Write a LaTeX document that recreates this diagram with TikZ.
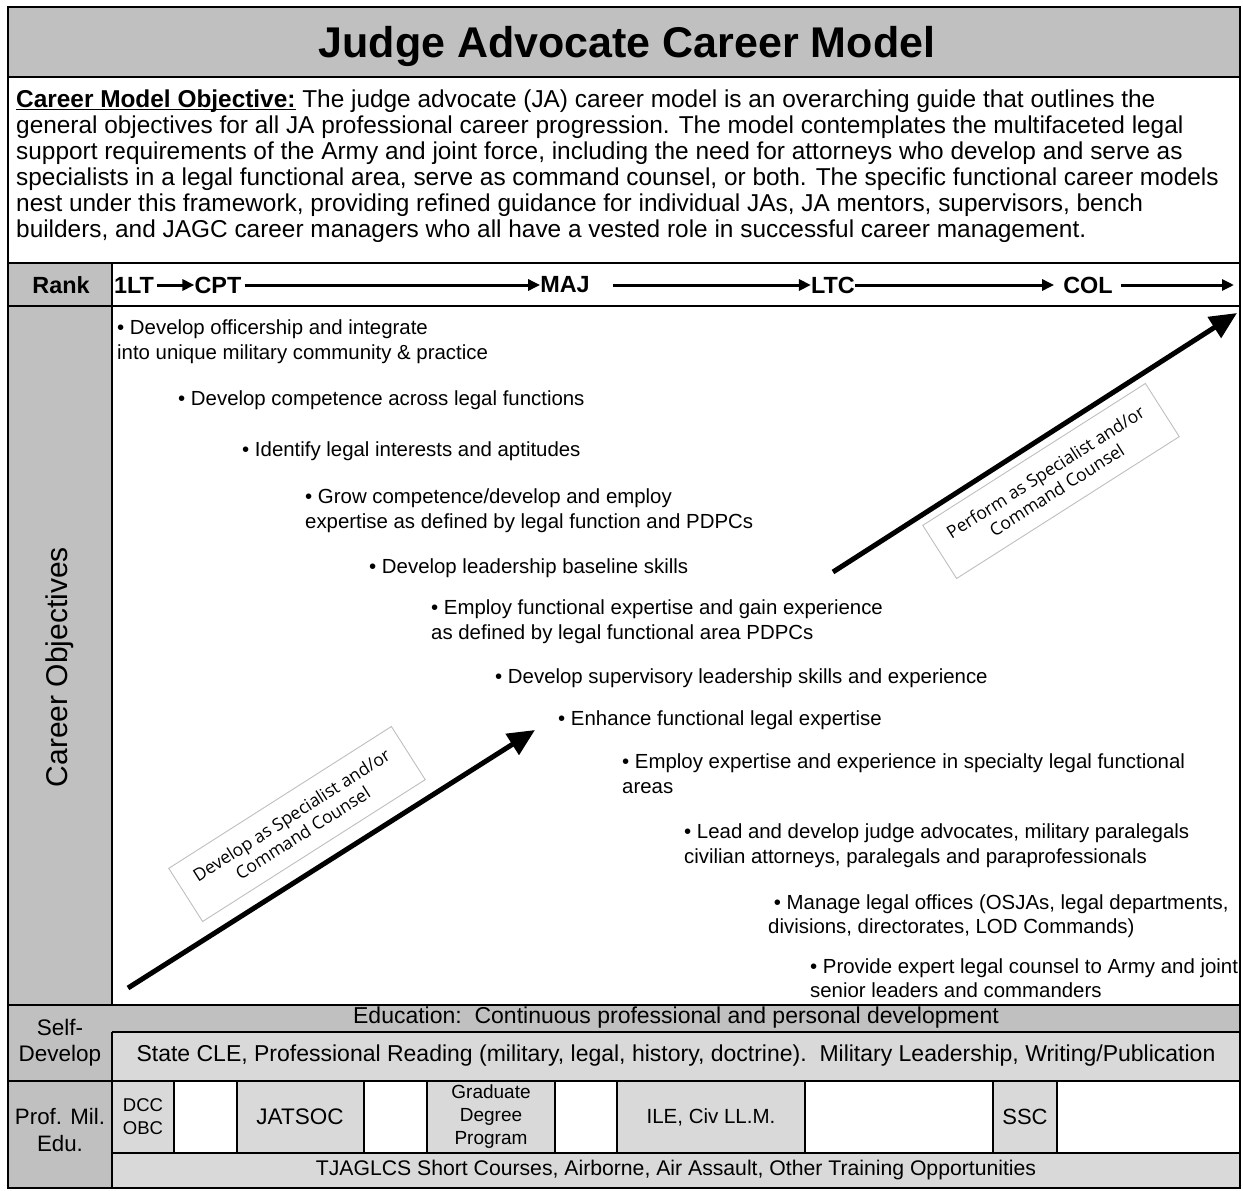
\documentclass[tikz,border=0pt]{standalone}
\usepackage{fontspec}
\setmainfont{Liberation Sans}
\newfontfamily\tagfont{Open Sans}
\usetikzlibrary{positioning,arrows.meta}

\definecolor{labelgray}{RGB}{192,192,192}
\definecolor{cellgray}{RGB}{217,217,217}
\definecolor{tagline}{RGB}{190,190,190}

\begin{document}
\begin{tikzpicture}[x=1pt,y=-1pt,
    rule/.style={line width=2.6pt},
    cellrule/.style={line width=1.8pt},
    rank/.style={font=\fontsize{23.4}{26}\selectfont\bfseries, inner sep=0pt},
    obj/.style={font=\fontsize{20.4}{25}\selectfont, align=left, anchor=north west, inner sep=0pt},
    cell/.style={font=\fontsize{22.5}{26}\selectfont, align=center, inner sep=0pt},
    rankarrow/.style={line width=3pt, -{Triangle[length=12pt,width=11pt]}},
    bigarrow/.style={line width=5pt, -{Triangle[length=27pt,width=24pt]}},
    tagbox/.style={draw=tagline, line width=0.9pt, rotate=32.5, minimum width=264pt,
        minimum height=63pt, align=center, inner sep=0pt, font=\tagfont\fontsize{17.5}{21}\selectfont}]
    \useasboundingbox (0,0) rectangle (1243,1191);

    % fills
    \fill[labelgray] (8,7) rectangle (1240,77);
    \fill[labelgray] (8,263) rectangle (112,1188);
    \fill[labelgray] (112,1005) rectangle (1240,1032);
    \fill[cellgray] (112,1032) rectangle (1240,1081);
    \fill[cellgray] (112,1153) rectangle (1240,1188);
    \foreach \a/\b in {112/174, 237/364, 427/555, 617/805, 993/1057}
        \fill[cellgray] (\a,1081) rectangle (\b,1153);

    % grid lines
    \draw[rule] (8,77) -- (1240,77);
    \draw[rule] (8,263) -- (1240,263);
    \draw[rule] (8,306) -- (1240,306);
    \draw[rule] (8,1005) -- (1240,1005);
    \draw[rule] (112,1032) -- (1240,1032);
    \draw[rule] (8,1081) -- (1240,1081);
    \draw[rule] (112,1153) -- (1240,1153);
    \draw[rule] (112,263) -- (112,1005);
    \draw[rule] (112,1032) -- (112,1188);
    \foreach \a in {174,237,364,427,555,617,805,993,1057}
        \draw[cellrule] (\a,1081) -- (\a,1153);
    \draw[rule] (8,7) rectangle (1240,1188);

    % title and objective
    \node[font=\fontsize{43}{50}\selectfont\bfseries] (title) at (627,46) {Judge Advocate Career Model};
    \node[font=\fontsize{24.4}{26}\selectfont, align=left, anchor=north west, inner sep=0pt] (aim) at (16,89.5)
        {\underline{\smash{\textbf{Career Model Objective:}}} The judge advocate (JA) career model is an overarching guide that outlines the\\
        general objectives for all JA professional career progression. The model contemplates the multifaceted legal\\
        support requirements of the Army and joint force, including the need for attorneys who develop and serve as\\
        specialists in a legal functional area, serve as command counsel, or both. The specific functional career models\\
        nest under this framework, providing refined guidance for individual JAs, JA mentors, supervisors, bench\\
        builders, and JAGC career managers who all have a vested role in successful career management.};

    % rank row
    \node[rank] (ranklbl) at (61,285) {Rank};
    \node[rank] (lt) at (134,285) {1LT};
    \node[rank] (cpt) at (218,285) {CPT};
    \node[rank] (maj) at (565,285) {MAJ};
    \node[rank] (ltc) at (833,285) {LTC};
    \node[rank] (col) at (1088,285) {COL};
    \coordinate (rankend) at (1234,285);
    \draw[rankarrow, shorten <=3pt] (lt) -- (cpt);
    \draw[rankarrow, shorten <=3pt] (cpt) -- (maj);
    \draw[rankarrow, shorten <=23pt] (maj) -- (ltc);
    \draw[rankarrow, shorten >=9pt] (ltc) -- (col);
    \draw[rankarrow, shorten <=8pt] (col) -- (rankend);

    % career objectives
    \node[rotate=90, font=\fontsize{30}{34}\selectfont] (colbl) at (60,667) {Career Objectives};
    \node[obj] (o1) at (117,320) {• Develop officership and integrate\\into unique military community \& practice};
    \node[obj] (o2) at (178,391) {• Develop competence across legal functions};
    \node[obj] (o3) at (242,442) {• Identify legal interests and aptitudes};
    \node[obj] (o4) at (305,489) {• Grow competence/develop and employ\\expertise as defined by legal function and PDPCs};
    \node[obj] (o5) at (369,559) {• Develop leadership baseline skills};
    \node[obj] (o6) at (431,600) {• Employ functional expertise and gain experience\\as defined by legal functional area PDPCs};
    \node[obj] (o7) at (495,669) {• Develop supervisory leadership skills and experience};
    \node[obj] (o8) at (558,711) {• Enhance functional legal expertise};
    \node[obj] (o9) at (622,754) {• Employ expertise and experience in specialty legal functional\\areas};
    \node[obj] (o10) at (684,824) {• Lead and develop judge advocates, military paralegals\\civilian attorneys, paralegals and paraprofessionals};
    \node[obj, font=\fontsize{20.4}{23.5}\selectfont] (o11) at (768,895) {\ • Manage legal offices (OSJAs, legal departments,\\divisions, directorates, LOD Commands)};
    \node[obj, font=\fontsize{20.4}{23.5}\selectfont] (o12) at (810,959) {• Provide expert legal counsel to Army and joint\\senior leaders and commanders};

    \coordinate (dev0) at (128,988);
    \coordinate (dev1) at (535,730);
    \coordinate (perf0) at (833,572);
    \coordinate (perf1) at (1237,313);
    \draw[bigarrow] (dev0) -- (dev1);
    \draw[bigarrow] (perf0) -- (perf1);
    \node[tagbox] (devtag) at (297,824) {Develop as Specialist and/or\\Command Counsel};
    \node[tagbox] (perftag) at (1051,481) {Perform as Specialist and/or\\Command Counsel};

    % self development
    \node[cell] (selflbl) at (60,1043) {Self-\\Develop};
    \node[cell, font=\fontsize{23}{26}\selectfont] (edu) at (676,1018) {Education:\ \ Continuous professional and personal development};
    \node[cell, font=\fontsize{23}{26}\selectfont] (cle) at (676,1056) {State CLE, Professional Reading (military, legal, history, doctrine).\ \ Military Leadership, Writing/Publication};

    % professional military education
    \node[cell, font=\fontsize{22.3}{27}\selectfont] (pmelbl) at (60,1130) {Prof. Mil.\\Edu.};
    \node[cell, font=\fontsize{18.5}{23}\selectfont] (obc) at (143,1117) {DCC\\OBC};
    \node[cell] (jatsoc) at (300,1117) {JATSOC};
    \node[cell, font=\fontsize{19}{23}\selectfont] (grad) at (491,1117) {Graduate\\Degree\\Program};
    \node[cell, font=\fontsize{20.5}{24}\selectfont] (ile) at (711,1117) {ILE, Civ LL.M.};
    \node[cell, font=\fontsize{22}{24}\selectfont] (ssc) at (1025,1117) {SSC};
    \node[cell, font=\fontsize{21.2}{24}\selectfont] (tjag) at (676,1170) {TJAGLCS Short Courses, Airborne, Air Assault, Other Training Opportunities};
\end{tikzpicture}
\end{document}
